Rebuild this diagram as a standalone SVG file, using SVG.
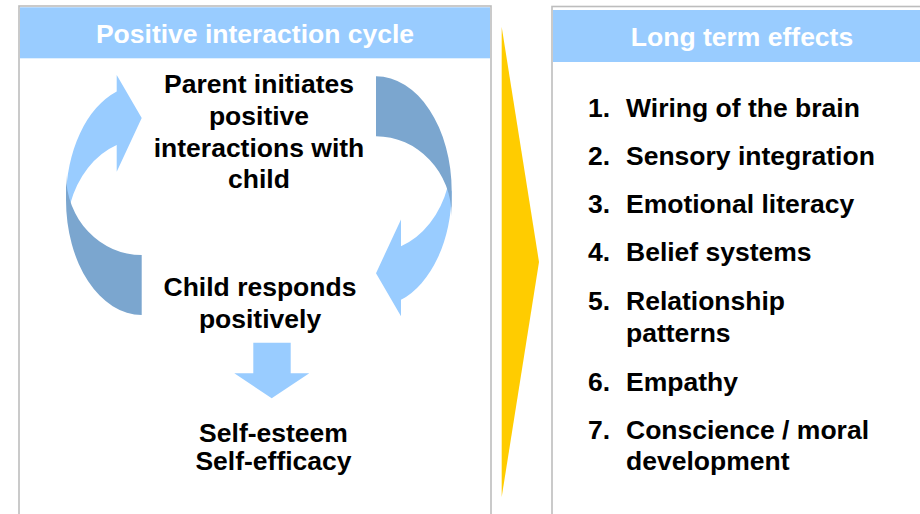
<svg xmlns="http://www.w3.org/2000/svg" width="920" height="514" viewBox="0 0 920 514">
<style>
.panel{fill:#fff;stroke:#bdbdbd;stroke-width:1.6}
.hdr{fill:#99ccff}
.ht{font-family:"Liberation Sans",Arial,sans-serif;font-weight:bold;font-size:26.5px;fill:#fff;text-anchor:middle}
.bt{font-family:"Liberation Sans",Arial,sans-serif;font-weight:bold;font-size:26.5px;fill:#000}
.c{text-anchor:middle}
.light{fill:#99ccff}
.dark{fill:#7ba6cf}
</style>
<rect width="920" height="514" fill="#fff"/>
<g id="panel-left">
<rect class="panel" x="19" y="6" width="472" height="520"/>
<rect class="hdr" x="20" y="7.3" width="470" height="51"/>
<text class="ht" x="255" y="42.7">Positive interaction cycle</text>
</g>
<g id="panel-right">
<rect class="panel" x="552" y="6.5" width="380" height="520"/>
<rect class="hdr" x="553" y="10" width="370" height="52"/>
<text class="ht" x="742" y="45.7">Long term effects</text>
</g>
<g id="connectors">
<g id="arrow-left-cycle">
<path class="light" d="M66,200 A75.7,115 0 0 1 116.7,91.4 L116.7,75 L141.7,118 L116.7,171.7 L116.7,145 A75.7,95.3 0 0 0 70,204.5 Z"/>
<path class="dark" d="M66,175 L66,200 A75.7,115 0 0 0 141.7,315 L141.7,255 A75.7,80 0 0 1 66,175 Z"/>
</g>
<g id="arrow-right-cycle" transform="rotate(180 258.85 195.6)">
<path class="light" d="M66,200 A75.7,115 0 0 1 116.7,91.4 L116.7,75 L141.7,118 L116.7,171.7 L116.7,145 A75.7,95.3 0 0 0 70,204.5 Z"/>
<path class="dark" d="M66,175 L66,200 A75.7,115 0 0 0 141.7,315 L141.7,255 A75.7,80 0 0 1 66,175 Z"/>
</g>
<path id="arrow-down" class="light" d="M253.3,342.7 H290.7 V373.3 H309.3 L271.7,398.3 L234.3,373.3 H253.3 Z"/>
<path id="arrow-big" d="M501.7,27 L539,262 L501.7,497 Z" fill="#ffcc00"/>
</g>
<g id="node-parent">
<text class="bt c" x="259" y="93.3">Parent initiates</text>
<text class="bt c" x="259" y="125">positive</text>
<text class="bt c" x="259" y="156.7">interactions with</text>
<text class="bt c" x="259" y="188.3">child</text>
</g>
<g id="node-child">
<text class="bt c" x="260" y="296">Child responds</text>
<text class="bt c" x="260" y="328">positively</text>
</g>
<g id="node-self">
<text class="bt c" x="273.5" y="441.5">Self-esteem</text>
<text class="bt c" x="273.5" y="469.5">Self-efficacy</text>
</g>
<g id="node-effects">
<text class="bt" x="588" y="117.3">1.</text><text class="bt" x="626" y="117.3">Wiring of the brain</text>
<text class="bt" x="588" y="165.3">2.</text><text class="bt" x="626" y="165.3">Sensory integration</text>
<text class="bt" x="588" y="213.3">3.</text><text class="bt" x="626" y="213.3">Emotional literacy</text>
<text class="bt" x="588" y="261.3">4.</text><text class="bt" x="626" y="261.3">Belief systems</text>
<text class="bt" x="588" y="310">5.</text><text class="bt" x="626" y="310">Relationship</text>
<text class="bt" x="626" y="342">patterns</text>
<text class="bt" x="588" y="390.5">6.</text><text class="bt" x="626" y="390.5">Empathy</text>
<text class="bt" x="588" y="438.5">7.</text><text class="bt" x="626" y="438.5">Conscience / moral</text>
<text class="bt" x="626" y="469.5">development</text>
</g>
</svg>
